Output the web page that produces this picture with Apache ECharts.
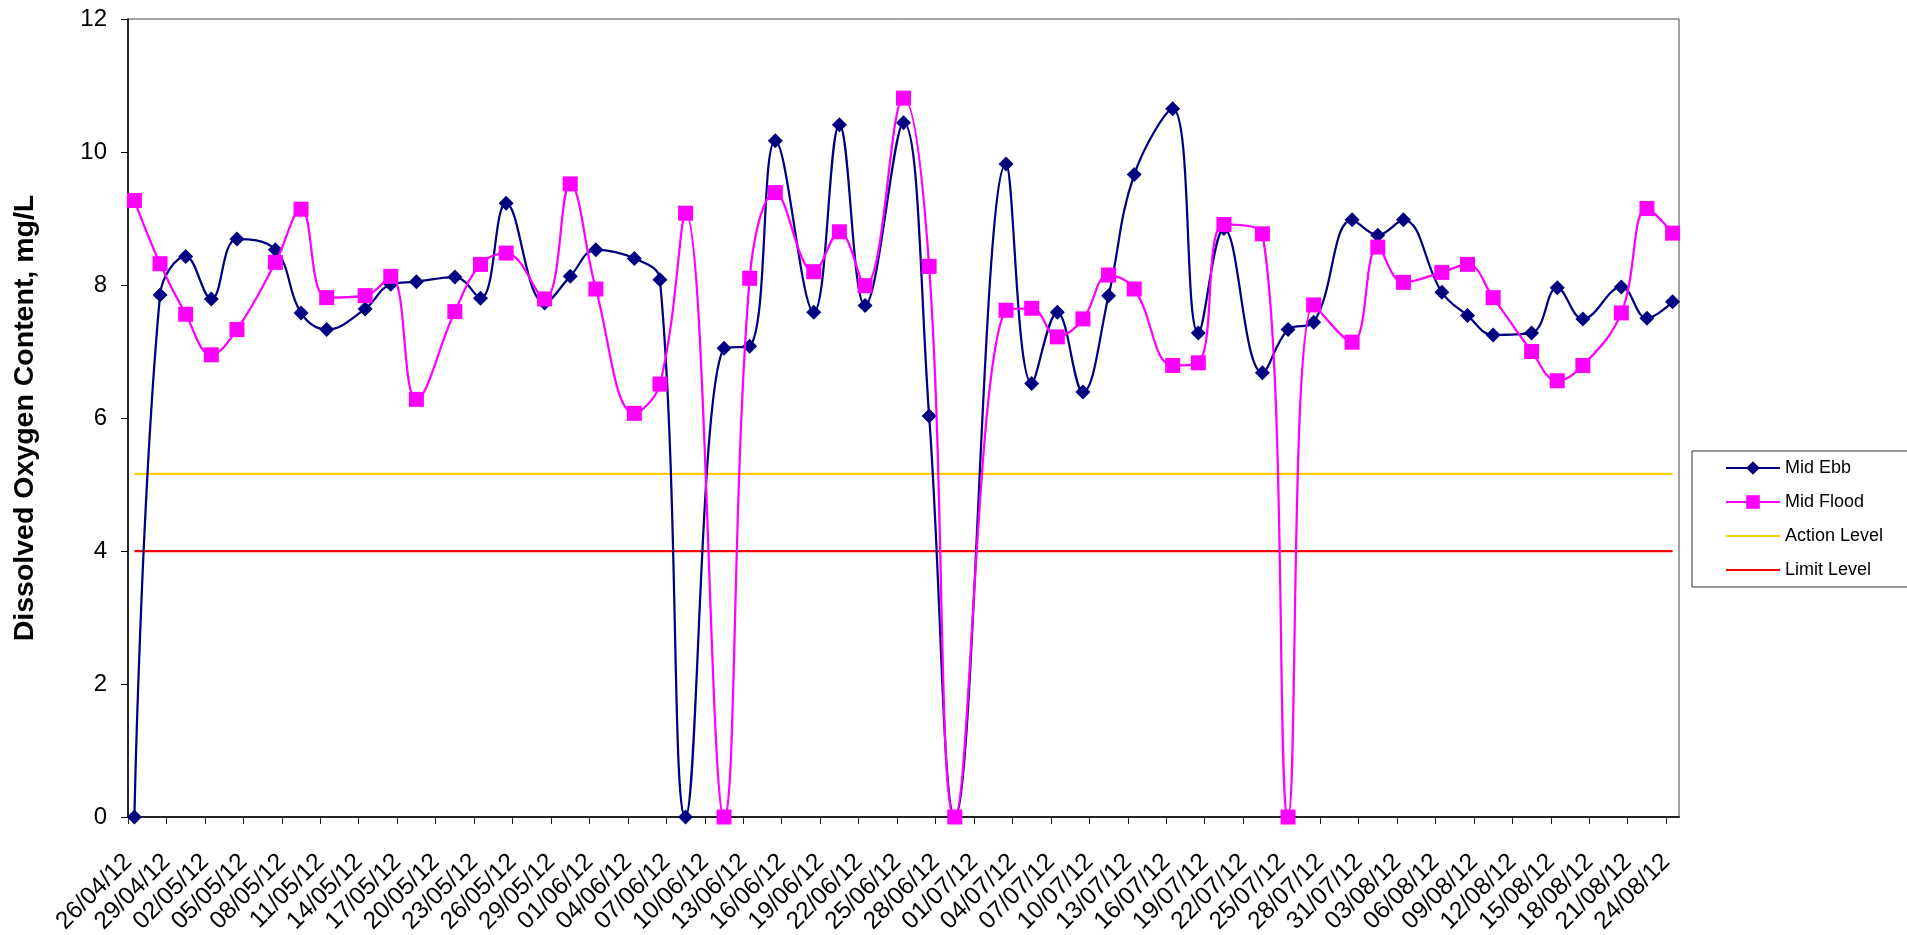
<!DOCTYPE html>
<html>
<head>
<meta charset="utf-8">
<title>Dissolved Oxygen Content</title>
<script src="https://cdn.jsdelivr.net/npm/echarts@6.0.0/dist/echarts.min.js"></script>
<style>
  html, body { margin: 0; padding: 0; background: #fff; }
  #chart { width: 1907px; height: 935px; }
</style>
</head>
<body>
<div id="chart"></div>
<script>
  // sampling dates, dd/mm/yy
  var sampleDates = [
    '26/04/12', '28/04/12', '30/04/12', '02/05/12', '04/05/12', '07/05/12', '09/05/12', '11/05/12',
    '14/05/12', '16/05/12', '18/05/12', '21/05/12', '23/05/12', '25/05/12', '28/05/12', '30/05/12',
    '01/06/12', '04/06/12', '06/06/12', '08/06/12', '11/06/12', '13/06/12', '15/06/12', '18/06/12',
    '20/06/12', '22/06/12', '25/06/12', '27/06/12', '29/06/12', '03/07/12', '05/07/12', '07/07/12',
    '09/07/12', '11/07/12', '13/07/12', '16/07/12', '18/07/12', '20/07/12', '23/07/12', '25/07/12',
    '27/07/12', '30/07/12', '01/08/12', '03/08/12', '06/08/12', '08/08/12', '10/08/12', '13/08/12',
    '15/08/12', '17/08/12', '20/08/12', '22/08/12', '24/08/12'
  ];
  var midEbb = [
    0, 7.85, 8.43, 7.79, 8.69, 8.53, 7.58, 7.33,
    7.64, 8.01, 8.05, 8.12, 7.80, 9.23, 7.73, 8.13,
    8.53, 8.40, 8.08, 0, 7.05, 7.08, 10.17, 7.59,
    10.41, 7.69, 10.44, 6.03, 0, 9.82, 6.52, 7.59,
    6.39, 7.84, 9.66, 10.65, 7.28, 8.85, 6.68, 7.33,
    7.44, 8.98, 8.75, 8.98, 7.89, 7.54, 7.25, 7.28,
    7.96, 7.49, 7.97, 7.50, 7.75
  ];
  var midFlood = [
    9.27, 8.32, 7.56, 6.95, 7.33, 8.34, 9.14, 7.81,
    7.84, 8.13, 6.28, 7.60, 8.31, 8.48, 7.79, 9.52,
    7.94, 6.07, 6.51, 9.08, 0, 8.10, 9.39, 8.20,
    8.80, 7.99, 10.81, 8.28, 0, 7.62, 7.65, 7.22,
    7.49, 8.15, 7.94, 6.79, 6.83, 8.91, 8.77, 0,
    7.70, 7.14, 8.57, 8.04, 8.19, 8.31, 7.81, 7.00,
    6.56, 6.79, 7.58, 9.15, 8.78
  ];
  var actionLevel = 5.16;
  var limitLevel = 4;

  // x axis: one day per unit, a label every 3 days
  var axisStart = '26/04/12';
  var axisDays = 121;
  var tickStep = 3;

  var DAY = 86400000;
  function parseDate(s) {
    var p = s.split('/');
    return Date.UTC(2000 + Number(p[2]), Number(p[1]) - 1, Number(p[0]));
  }
  function pad(n) { return (n < 10 ? '0' : '') + n; }
  var t0 = parseDate(axisStart);
  function dayOf(s) { return Math.round((parseDate(s) - t0) / DAY); }
  function labelOf(v) {
    var d = new Date(t0 + v * DAY);
    return pad(d.getUTCDate()) + '/' + pad(d.getUTCMonth() + 1) + '/' + String(d.getUTCFullYear()).slice(2);
  }

  // points sit in the middle of their day slot, like Excel date axes
  function pairs(values) {
    return sampleDates.map(function (d, i) { return [dayOf(d) + 0.5, values[i]]; });
  }
  function level(v) {
    return sampleDates.map(function (d) { return [dayOf(d) + 0.5, v]; });
  }

  var tickValues = [];
  for (var t = 0; t <= axisDays; t += tickStep) tickValues.push(t);

  var font = 'Liberation Sans, Arial, sans-serif';
  var chart = echarts.init(document.getElementById('chart'));

  var option = {
    animation: false,
    backgroundColor: '#fff',
    grid: {
      left: 128, top: 19, right: 228, bottom: 118,
      outerBoundsMode: 'none',
      containLabel: false,
      show: true, borderColor: '#444', borderWidth: 1
    },
    legend: {
      orient: 'vertical',
      left: 1692, top: 451,
      padding: [8, 62, 8, 33],
      itemWidth: 54, itemHeight: 17,
      itemGap: 16,
      borderColor: '#333', borderWidth: 1,
      textStyle: { fontFamily: font, fontSize: 18, color: '#000' },
      data: [
        'Mid Ebb',
        'Mid Flood',
        { name: 'Action Level', itemStyle: { opacity: 0 } },
        { name: 'Limit Level', itemStyle: { opacity: 0 } }
      ]
    },
    xAxis: {
      type: 'value',
      min: 0, max: axisDays, interval: tickStep,
      splitLine: { show: false },
      axisLine: { lineStyle: { color: '#222', width: 2 } },
      axisTick: { length: 7, customValues: tickValues, lineStyle: { color: '#222' } },
      axisLabel: {
        customValues: tickValues,
        rotate: 45,
        margin: 41,
        fontFamily: font, fontSize: 24.5, color: '#000',
        formatter: function (v) { return labelOf(v); }
      }
    },
    yAxis: {
      type: 'value',
      min: 0, max: 12, interval: 2,
      name: 'Dissolved Oxygen Content, mg/L',
      nameLocation: 'middle',
      nameGap: 88,
      nameTextStyle: { fontFamily: font, fontSize: 28.5, fontWeight: 'bold', color: '#000' },
      splitLine: { show: false },
      axisLine: { show: true, lineStyle: { color: '#000', width: 1.5 } },
      axisTick: { show: true, length: 7, lineStyle: { color: '#000' } },
      axisLabel: { margin: 21, fontFamily: font, fontSize: 24, color: '#000' }
    },
    series: [
      {
        name: 'Mid Ebb', type: 'line', data: pairs(midEbb),
        smooth: 0.4, symbol: 'diamond', symbolSize: 15,
        itemStyle: { color: '#000080' },
        lineStyle: { color: '#000080', width: 2.25 },
        z: 3
      },
      {
        name: 'Mid Flood', type: 'line', data: pairs(midFlood),
        smooth: 0.4, symbol: 'rect', symbolSize: 15,
        itemStyle: { color: '#FF00FF' },
        lineStyle: { color: '#FF00FF', width: 2.25 },
        z: 4
      },
      {
        name: 'Action Level', type: 'line', data: level(actionLevel),
        symbol: 'none', itemStyle: { color: '#FFCC00' },
        lineStyle: { color: '#FFCC00', width: 2.25 }, z: 2
      },
      {
        name: 'Limit Level', type: 'line', data: level(limitLevel),
        symbol: 'none', itemStyle: { color: '#FF0000' },
        lineStyle: { color: '#FF0000', width: 2.25 }, z: 2
      }
    ]
  };
  chart.setOption(option);
</script>
</body>
</html>
